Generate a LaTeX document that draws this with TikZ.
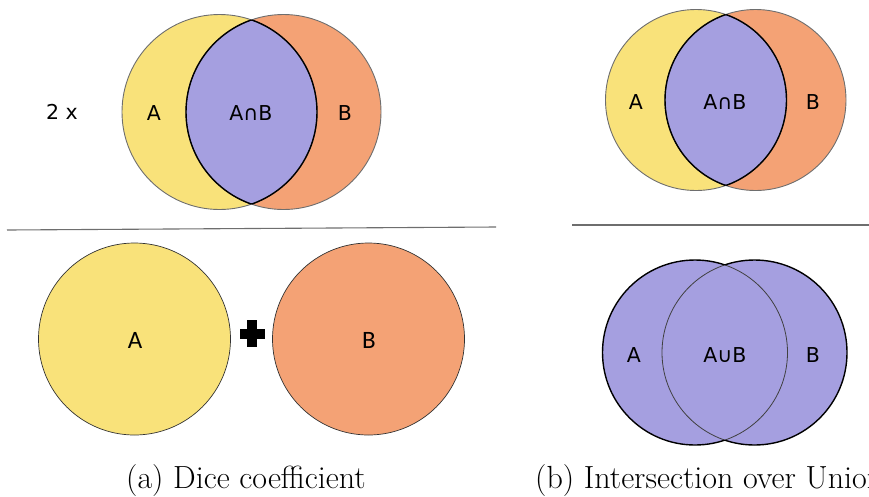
\documentclass[tikz,border=0pt]{standalone}
\usepackage{fontspec}
\newfontfamily\vennfont{DejaVu Sans}
\newfontfamily\calfont{Carlito}
\definecolor{setA}{RGB}{249,226,122}
\definecolor{setB}{RGB}{244,162,117}
\definecolor{setAB}{RGB}{165,159,224}
\definecolor{rimgray}{RGB}{110,110,110}
\tikzset{
  vlabel/.style={font=\vennfont\fontsize{20.5}{24}\selectfont, inner sep=0pt},
  blabel/.style={font=\calfont\fontsize{25}{30}\selectfont, inner sep=0pt},
  caption/.style={font=\fontsize{32}{38}\selectfont, inner sep=0pt},
  rim/.style={draw=rimgray, line width=0.9pt},
  lensrim/.style={draw=black, line width=1.4pt},
  rule/.style={draw=rimgray, line width=1.1pt},
}
\begin{document}
\begin{tikzpicture}[x=1pt, y=-1pt]
\useasboundingbox (0,0) rectangle (869,496);
\clip (0,0) rectangle (869,496);

% ---- (a) top: 2 x |A n B|
\fill[setA] (219.5,112) circle (97.5);
\fill[setB] (283.5,112) circle (97.5);
\begin{scope}
  \clip (219.5,112) circle (97.5);
  \fill[setAB] (283.5,112) circle (97.5);
\end{scope}
\draw[rim] (219.5,112) circle (97.5);
\draw[rim] (283.5,112) circle (97.5);
\begin{scope}
  \clip (219.5,112) circle (97.5);
  \draw[lensrim] (283.5,112) circle (97.5);
\end{scope}
\begin{scope}
  \clip (283.5,112) circle (97.5);
  \draw[lensrim] (219.5,112) circle (97.5);
\end{scope}
\node[vlabel] (twox) at (62,112) {2 x};
\node[vlabel] (dA) at (154,113) {A};
\node[vlabel] (dAB) at (251,113) {A∩B};
\node[vlabel] (dB) at (345,113) {B};

\draw[rule] (7,230) -- (496,227);

% ---- (a) bottom: |A| + |B|
\filldraw[fill=setA, draw=black!80, line width=0.7pt] (134.5,339) circle (96);
\filldraw[fill=setB, draw=black!80, line width=0.7pt] (368.5,339) circle (96);
\node[blabel] (sA) at (135,340) {A};
\node[blabel] (sB) at (369,340) {B};
\node[fill=black, minimum width=25pt, minimum height=10pt, inner sep=0pt] (plusH) at (252,333.5) {};
\node[fill=black, minimum width=10pt, minimum height=27pt, inner sep=0pt] (plusV) at (252,333.5) {};

\node[caption, anchor=base] (capa) at (246,488) {(a) Dice coefficient};

% ---- (b) top: |A n B|
\fill[setA] (696,100) circle (90.5);
\fill[setB] (755.5,100) circle (90.5);
\begin{scope}
  \clip (696,100) circle (90.5);
  \fill[setAB] (755.5,100) circle (90.5);
\end{scope}
\draw[rim] (696,100) circle (90.5);
\draw[rim] (755.5,100) circle (90.5);
\begin{scope}
  \clip (696,100) circle (90.5);
  \draw[lensrim] (755.5,100) circle (90.5);
\end{scope}
\begin{scope}
  \clip (755.5,100) circle (90.5);
  \draw[lensrim] (696,100) circle (90.5);
\end{scope}
\node[vlabel] (iA) at (636,102) {A};
\node[vlabel] (iAB) at (725,102) {A∩B};
\node[vlabel] (iB) at (813,102) {B};

\draw[rule] (572,225) -- (869,225);

% ---- (b) bottom: |A u B|
\fill[setAB] (695,352.5) circle (92.5);
\fill[setAB] (754.5,352.5) circle (92.5);
\begin{scope}
  \clip (695,352.5) circle (92.5);
  \draw[draw=black!75, line width=0.8pt] (754.5,352.5) circle (92.5);
\end{scope}
\begin{scope}
  \clip (754.5,352.5) circle (92.5);
  \draw[draw=black!75, line width=0.8pt] (695,352.5) circle (92.5);
\end{scope}
\begin{scope}[even odd rule]
  \clip (0,0) rectangle (869,496) (754.5,352.5) circle (92.5);
  \draw[lensrim] (695,352.5) circle (92.5);
\end{scope}
\begin{scope}[even odd rule]
  \clip (0,0) rectangle (869,496) (695,352.5) circle (92.5);
  \draw[lensrim] (754.5,352.5) circle (92.5);
\end{scope}
\node[vlabel] (uA) at (634,355) {A};
\node[vlabel] (uAB) at (725,355) {A∪B};
\node[vlabel] (uB) at (813,355) {B};

\node[caption, anchor=base west] (capb) at (535,488) {(b) Intersection over Union};
\end{tikzpicture}
\end{document}
